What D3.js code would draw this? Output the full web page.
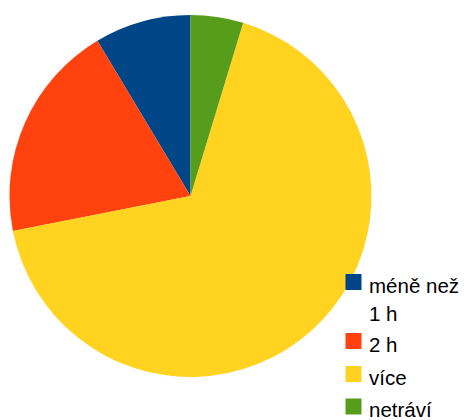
<!DOCTYPE html>
<html>
<head>
<meta charset="utf-8">
<script src="https://cdn.jsdelivr.net/npm/d3@7"></script>
<style>
  html, body { margin: 0; padding: 0; background: #fff; }
  svg { display: block; }
</style>
</head>
<body>
<svg id="chart" width="464" height="420"></svg>
<script>
// Share of answers (%), in legend order
const categories = ["méně než 1 h", "2 h", "více", "netráví"];
const legendLines = [["méně než", "1 h"], ["2 h"], ["více"], ["netráví"]];
const values = [8.6, 19.5, 67.2, 4.7];
const colors = ["#004586", "#ff420e", "#ffd320", "#579d1c"];

const svg = d3.select("#chart");
const cx = 190.5, cy = 196, r = 181;

// Slices run counter-clockwise from 12 o'clock
const pie = d3.pie().sort(null).value(d => d)
  .startAngle(2 * Math.PI).endAngle(0);
const arc = d3.arc().innerRadius(0).outerRadius(r);

svg.append("g")
  .attr("transform", `translate(${cx},${cy})`)
  .selectAll("path")
  .data(pie(values))
  .join("path")
  .attr("d", arc)
  .attr("fill", (d, i) => colors[i]);

// Legend
const legendY = [274, 333, 366, 398.5];
const lg = svg.append("g").attr("font-family", "Liberation Sans, Arial, sans-serif")
  .attr("font-size", 20.5).attr("fill", "#000");
categories.forEach((c, i) => {
  const g = lg.append("g").attr("transform", `translate(345.5,${legendY[i]})`);
  g.append("rect").attr("width", 16).attr("height", 16).attr("fill", colors[i]);
  legendLines[i].forEach((t, j) => {
    g.append("text").attr("x", 23.5).attr("y", 18.5 + j * 28.3).text(t);
  });
});
</script>
</body>
</html>
